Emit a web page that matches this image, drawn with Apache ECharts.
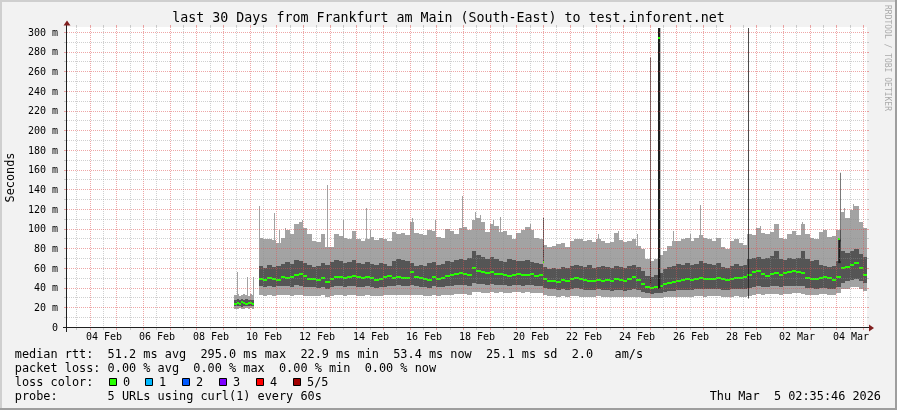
<!DOCTYPE html>
<html><head><meta charset="utf-8">
<script src="https://cdn.jsdelivr.net/npm/echarts@6/dist/echarts.min.js"></script>
<style>html,body{margin:0;padding:0;background:#f2f2f2;}#c{width:897px;height:410px;}</style>
</head><body><div id="c"></div><script>
// ================= DATA =================
const TITLE = 'last 30 Days from Frankfurt am Main (South-East) to test.inforent.net';
const AXIS_START = '2026-02-03T02:35:46Z';
const AXIS_END = '2026-03-05T02:35:46Z';
const Y_MAX = 306.1;
const Y_STEP = 20;
const xLabelDates = ['2026-02-04','2026-02-06','2026-02-08','2026-02-10','2026-02-12','2026-02-14','2026-02-16','2026-02-18','2026-02-20','2026-02-22','2026-02-24','2026-02-26','2026-02-28','2026-03-02','2026-03-04'];
const xTickLabels = ['04 Feb','06 Feb','08 Feb','10 Feb','12 Feb','14 Feb','16 Feb','18 Feb','20 Feb','22 Feb','24 Feb','26 Feb','28 Feb','02 Mar','04 Mar'];

// segment 1 (Feb 9), 2h steps, values in ms
const seg1Start = '2026-02-09T09:10:00Z';
const seg1StepHours = 2;
const seg1Lo1 = [19,19,20,19,19,20,19,20,19];
const seg1Lo2 = [22,22,22,21,22,22,22,22,22];
const seg1Hi2 = [28,29,28,29,28,29,28,28,28];
const seg1Hi1 = [34,35,33,34,35,34,33,35,34];
const seg1Med = [24,25,24,26,25,24,25,25,24];

// segment 2 (Feb 10 -> Mar 5), 4h steps
const seg2Start = '2026-02-10T07:00:00Z';
const seg2StepHours = 4;
const seg2Hi1 = [92,90,91,89,86,92, 100,96,106,108,102,96, 88,87,96,82,82,96, 94,92,91,99,90,88, 90,93,89,92,90,88, 98,96,97,95,108,97, 96,95,100,99,93,92, 101,99,96,102,103,100, 110,112,108,98,106,104, 98,99,95,90,97,100, 103,100,92,90,84,82, 83,85,86,82,88,90, 91,88,89,87,90,88, 86,87,97,89,87,88, 91,83,80,70,68,70, 74,78,83,88,88,90, 92,88,92,95,92,90, 88,92,82,80,88,90, 86,84,96,95,102,97, 96,98,106,92,90,96, 99,95,106,96,92,90, 98,100,93,94,100,118, 112,120,124,108,102];
const seg2Hi2 = [63,61,64,62,63,65, 67,65,69,68,66,64, 62,63,66,64,67,69, 68,66,67,69,66,65, 67,65,64,66,65,63, 68,70,69,68,66,63, 64,63,66,67,64,65, 68,67,69,70,69,71, 78,74,72,70,72,70, 68,67,70,69,68,68, 69,67,66,65,62,60, 61,60,62,61,63,64, 63,62,64,61,62,63, 62,61,63,62,61,63, 64,62,58,53,52,54, 56,60,62,63,65,64, 66,64,65,68,66,65, 64,66,62,61,63,65, 63,64,70,71,72,70, 71,73,78,70,69,71, 70,71,78,70,68,69, 64,63,62,63,68,78, 76,78,80,75,72];
const seg2Med = [50,49,51,50,49,52, 51,52,54,55,53,50, 50,49,51,47,50,52, 52,51,52,53,52,51, 52,51,49,50,52,53, 51,52,51,51,57,52, 51,50,49,52,50,51, 53,54,55,56,55,54, 61,58,57,56,57,55, 55,54,53,54,55,54, 54,55,53,54,50,48, 48,47,49,48,50,51, 50,49,48,48,49,48, 49,48,50,49,48,50, 52,49,45,42,41,42, 43,45,46,47,48,49, 50,49,50,51,50,50, 50,51,50,49,50,51, 51,52,54,57,58,55, 53,55,56,54,56,57, 58,57,56,51,50,50, 51,52,51,49,52,61, 62,64,66,61,54];
const seg2Lo2 = [43,42,43,42,43,43, 43,42,44,43,42,42, 42,41,42,40,42,43, 43,42,43,43,42,42, 43,42,41,42,42,43, 43,44,43,43,44,43, 42,42,41,43,42,42, 43,43,44,44,44,43, 46,45,45,44,45,44, 44,44,43,44,44,43, 44,44,43,43,41,40, 40,39,40,39,40,41, 40,39,39,39,40,39, 39,38,39,39,38,39, 40,39,37,36,35,36, 36,37,38,38,39,39, 39,39,40,40,40,40, 40,40,39,39,40,40, 40,40,41,42,43,42, 42,43,43,42,43,43, 43,43,43,41,41,40, 41,41,40,40,42,46, 48,49,50,48,46];
const seg2Lo1 = [34,33,34,33,34,34, 34,33,34,34,33,33, 33,33,34,32,33,34, 34,33,34,34,33,33, 34,33,33,33,34,34, 34,34,34,34,34,34, 34,33,33,34,33,34, 34,34,35,35,35,34, 37,37,36,36,37,36, 37,36,36,37,37,36, 37,36,36,36,34,33, 33,32,33,32,33,33, 32,32,32,32,33,32, 32,32,32,32,32,32, 32,32,31,30,30,30, 31,32,32,32,32,32, 32,32,33,33,32,33, 33,33,32,32,32,33, 32,32,33,34,35,34, 35,35,35,34,35,35, 36,36,35,34,34,34, 35,35,34,34,36,40, 40,42,42,40,38];

// single-column peaks of the outer smoke
const lightSpikeTimes = ['2026-02-09T11:52Z','2026-02-09T20:18Z','2026-02-10T01:42Z','2026-02-10T07:00Z','2026-02-10T21:12Z','2026-02-11T01:24Z','2026-02-11T06:48Z','2026-02-11T22:06Z','2026-02-12T20:36Z','2026-02-13T11:16Z','2026-02-13T19:06Z','2026-02-14T07:24Z','2026-02-14T11:18Z','2026-02-16T01:06Z','2026-02-16T21:48Z','2026-02-17T21:48Z','2026-02-18T09:48Z','2026-02-18T14:18Z','2026-02-19T02:00Z','2026-02-19T08:18Z','2026-02-20T11:18Z','2026-02-23T00:48Z','2026-02-23T18:12Z','2026-02-24T11:18Z','2026-02-25T20:18Z','2026-02-26T11:18Z','2026-02-26T20:18Z','2026-03-01T02:18Z','2026-03-01T15:48Z','2026-03-02T16:06Z','2026-03-04T05:54Z','2026-03-04T14:00Z'];
const lightSpikeValues = [57,52,52,124,117,100,102,110,145,110,99,122,100,112,110,134,118,115,110,113,106,96,99,96,99,96,125,104,106,108,122,126];

// outlier columns (all pings high)
const darkSpikeStart = ['2026-02-20T23:00Z','2026-02-24T23:34Z','2026-02-25T06:30Z','2026-02-28T15:30Z','2026-03-04T00:42Z','2026-03-04T02:18Z'];
const darkSpikeEnd   = ['2026-02-20T23:40Z','2026-02-25T00:12Z','2026-02-25T08:34Z','2026-02-28T16:13Z','2026-03-04T02:52Z','2026-03-04T02:50Z'];
const darkSpikeLow   = [66,45,40,30,66,88];
const darkSpikeHigh  = [112,275,305,305,90,158];
const darkSpikeMedian= [67,null,295,null,90,null];

// legend
const legendLines = [
  'median rtt:  51.2 ms avg  295.0 ms max  22.9 ms min  53.4 ms now  25.1 ms sd  2.0   am/s',
  'packet loss: 0.00 % avg  0.00 % max  0.00 % min  0.00 % now',
  'loss color:',
  'probe:       5 URLs using curl(1) every 60s'
];
const lossLabels = ['0','1','2','3','4','5/5'];
const lossColors = ['#26ff00','#00b8ff','#0059ff','#7e00ff','#ff0000','#a10000'];
const stampText = 'Thu Mar  5 02:35:46 2026';
const watermark = 'RRDTOOL / TOBI OETIKER';
const yAxisName = 'Seconds';

// ================= STYLE =================
const GL = 67, GT = 27, GW = 800, GH = 301;
const MONO = '"DejaVu Sans Mono", monospace';
const LIGHT = '#a3a3a3', DARK = '#555555', GREEN = '#26ff00', SPIKE = '#1e1e1e';
const MGRID = 'rgba(222,79,79,0.5)', GRID = 'rgba(143,143,143,0.42)';
const AXISC = '#1f1f1f', ARROW = '#801f1f';
const SPIKE_BASE = 0.45;

// ================= BUILD =================
const ms = s => Date.parse(s);
const HOUR = 3600e3;
const T0 = ms(AXIS_START), T1 = ms(AXIS_END);

function bandItems(start, stepH, lo1, lo2, hi2, hi1, med) {
  const s = ms(start);
  return hi1.map((_, i) => [s + i*stepH*HOUR, s + (i+1)*stepH*HOUR, lo1[i], lo2[i], hi2[i], hi1[i], med[i]]);
}
const bandData = bandItems(seg1Start, seg1StepHours, seg1Lo1, seg1Lo2, seg1Hi2, seg1Hi1, seg1Med)
  .concat(bandItems(seg2Start, seg2StepHours, seg2Lo1, seg2Lo2, seg2Hi2, seg2Hi1, seg2Med));
const lightSpikeData = lightSpikeTimes.map((t, i) => [ms(t), lightSpikeValues[i]]);
const darkSpikeData = darkSpikeStart.map((t, i) => [ms(t), ms(darkSpikeEnd[i]), darkSpikeLow[i], darkSpikeHigh[i], darkSpikeMedian[i] == null ? -1 : darkSpikeMedian[i]]);

// grid lines: kind 0 major vertical (midnight), 1 minor vertical (noon), 2 major horiz, 3 minor horiz
const gridData = [];
for (let d = 0; d < 30; d++) {
  gridData.push([0, Date.UTC(2026, 1, 4 + d)]);
  gridData.push([1, Date.UTC(2026, 1, 3 + d, 12)]);
}
for (let v = 0; v <= 300; v += Y_STEP) gridData.push([2, v]);
for (let v = Y_STEP/2; v < 300; v += Y_STEP) gridData.push([3, v]);
const xLabelData = xLabelDates.map(d => [ms(d + 'T12:00:00Z'), 0]);

function clampX(cs, x) { return Math.max(cs.x, Math.min(cs.x + cs.width, x)); }
function clampY(cs, y) { return Math.max(cs.y, Math.min(cs.y + cs.height, y)); }

function renderBand(params, api) {
  const cs = params.coordSys;
  const xa = clampX(cs, Math.round(api.coord([api.value(0), 0])[0]));
  const xb = clampX(cs, Math.round(api.coord([api.value(1), 0])[0]));
  const w = xb - xa; if (w <= 0) return null;
  const Y = v => Math.round(api.coord([api.value(0), v])[1]);
  const yLo1 = Y(api.value(2)), yLo2 = Y(api.value(3)), yHi2 = Y(api.value(4)), yHi1 = Y(api.value(5)), yMed = Y(api.value(6));
  return {type: 'group', children: [
    {type: 'rect', shape: {x: xa, y: yHi1, width: w, height: yLo1 - yHi1}, style: {fill: LIGHT}},
    {type: 'rect', shape: {x: xa, y: yHi2, width: w, height: yLo2 - yHi2}, style: {fill: DARK}},
    {type: 'rect', shape: {x: xa, y: yMed - 1, width: w, height: 2}, style: {fill: GREEN}}
  ]};
}
function renderLightSpike(params, api) {
  const v = api.value(1);
  const p = api.coord([api.value(0), v]);
  const base = api.coord([api.value(0), v * SPIKE_BASE]);
  const x = Math.round(p[0]);
  return {type: 'rect', shape: {x: x, y: Math.round(p[1]), width: 1, height: Math.round(base[1]) - Math.round(p[1])}, style: {fill: LIGHT}};
}
function renderDarkSpike(params, api) {
  const cs = params.coordSys;
  const a = api.coord([api.value(0), api.value(2)]);
  const b = api.coord([api.value(1), api.value(3)]);
  const yTop = clampY(cs, b[1]);
  const children = [{type: 'rect', shape: {x: a[0], y: yTop, width: b[0] - a[0], height: a[1] - yTop}, style: {fill: SPIKE}}];
  if (api.value(4) >= 0) {
    const ym = Math.round(api.coord([api.value(0), api.value(4)])[1]);
    children.push({type: 'rect', shape: {x: Math.floor(a[0]), y: ym - 1, width: Math.max(1, Math.round(b[0] - a[0])), height: 2}, style: {fill: GREEN}});
  }
  return {type: 'group', children};
}
function renderGrid(params, api) {
  const cs = params.coordSys;
  const kind = api.value(0), v = api.value(1);
  const major = kind === 0 || kind === 2;
  const color = major ? MGRID : GRID;
  if (kind < 2) {
    const x = Math.round(api.coord([v, 0])[0]) - 0.5;
    const top = cs.y, bot = cs.y + cs.height;
    return {type: 'group', children: [
      {type: 'line', shape: {x1: x, y1: top, x2: x, y2: bot}, style: {stroke: color, lineWidth: 1, lineDash: [1, 1]}},
      {type: 'line', shape: {x1: x, y1: top - 2, x2: x, y2: top}, style: {stroke: color, lineWidth: 1}},
      {type: 'line', shape: {x1: x, y1: bot, x2: x, y2: bot + 2}, style: {stroke: color, lineWidth: 1}}
    ]};
  }
  const y = Math.round(api.coord([T0, v])[1]) - 0.5;
  const l = cs.x, r = cs.x + cs.width;
  return {type: 'group', children: [
    {type: 'line', shape: {x1: l, y1: y, x2: r, y2: y}, style: {stroke: color, lineWidth: 1, lineDash: [1, 1]}},
    {type: 'line', shape: {x1: l - 3, y1: y, x2: l, y2: y}, style: {stroke: color, lineWidth: 1}},
    {type: 'line', shape: {x1: r, y1: y, x2: r + 2, y2: y}, style: {stroke: color, lineWidth: 1}}
  ]};
}
function renderXLabel(params, api) {
  const cs = params.coordSys;
  const p = api.coord([api.value(0), 0]);
  return {type: 'text', x: Math.round(p[0]), y: cs.y + cs.height + 9.5,
    style: {text: xTickLabels[params.dataIndex], font: '10px ' + MONO, fill: '#000', textAlign: 'center', textVerticalAlign: 'middle'}};
}

// ---- decoration (frame, axes, legend) ----
const graphics = [
  {type: 'rect', shape: {x: 0, y: 0, width: 897, height: 2}, style: {fill: '#cfcfcf'}, z: 100},
  {type: 'rect', shape: {x: 0, y: 0, width: 2, height: 410}, style: {fill: '#cfcfcf'}, z: 100},
  {type: 'rect', shape: {x: 0, y: 408, width: 897, height: 2}, style: {fill: '#9e9e9e'}, z: 100},
  {type: 'rect', shape: {x: 895, y: 0, width: 2, height: 410}, style: {fill: '#9e9e9e'}, z: 100},
  {type: 'line', shape: {x1: GL - 4, y1: GT + GH - 0.5, x2: GL + GW + 4, y2: GT + GH - 0.5}, style: {stroke: AXISC, lineWidth: 1}, z: 100},
  {type: 'line', shape: {x1: GL - 0.5, y1: GT + GH + 4, x2: GL - 0.5, y2: GT - 4}, style: {stroke: AXISC, lineWidth: 1}, z: 100},
  {type: 'polygon', shape: {points: [[GL + GW + 2, GT + GH - 3.5], [GL + GW + 2, GT + GH + 3.5], [GL + GW + 7, GT + GH]]}, style: {fill: ARROW}, z: 101},
  {type: 'polygon', shape: {points: [[GL - 3.5, GT - 1.5], [GL + 3.5, GT - 1.5], [GL, GT - 6.5]]}, style: {fill: ARROW}, z: 101},
  {type: 'text', x: 448.5, y: 18.5, style: {text: TITLE, font: '13.3px ' + MONO, fill: '#000', textAlign: 'center', textVerticalAlign: 'middle'}, z: 100},
  {type: 'text', x: 11, y: GT + GH / 2, rotation: Math.PI / 2, style: {text: yAxisName, font: '11.86px ' + MONO, fill: '#000', textAlign: 'center', textVerticalAlign: 'middle'}, z: 100},
  {type: 'text', x: 887, y: 5, rotation: -Math.PI / 2, style: {text: watermark, font: '8px ' + MONO, fill: '#ababab', textAlign: 'left', textVerticalAlign: 'middle'}, z: 100},
  {type: 'text', x: 881, y: 396.5, style: {text: stampText, font: '11.86px ' + MONO, fill: '#000', textAlign: 'right', textVerticalAlign: 'middle'}, z: 100}
];
const legendY = [354.5, 368.5, 382.5, 396.5];
legendLines.forEach((t, i) => graphics.push({type: 'text', x: 14.8, y: legendY[i], style: {text: t, font: '11.86px ' + MONO, fill: '#000', textAlign: 'left', textVerticalAlign: 'middle'}, z: 100}));
lossLabels.forEach((t, i) => {
  const bx = Math.round(108.5 + i * 36.8) + 0.5;
  graphics.push({type: 'rect', shape: {x: bx, y: 378.5, width: 7, height: 7}, style: {fill: lossColors[i], stroke: '#000', lineWidth: 1}, z: 100});
  graphics.push({type: 'text', x: bx + 13.5, y: legendY[2], style: {text: t, font: '11.86px ' + MONO, fill: '#000', textAlign: 'left', textVerticalAlign: 'middle'}, z: 100});
});

const chart = echarts.init(document.getElementById('c'), null, {renderer: 'canvas'});
chart.setOption({
  animation: false,
  backgroundColor: '#f2f2f2',
  grid: {left: GL, top: GT, width: GW, height: GH, show: true, backgroundColor: '#ffffff', borderWidth: 0, containLabel: false},
  xAxis: {type: 'value', min: T0, max: T1, show: false},
  yAxis: {type: 'value', min: 0, max: Y_MAX, interval: Y_STEP,
    axisLine: {show: false}, axisTick: {show: false}, splitLine: {show: false},
    axisLabel: {show: true, margin: 9, fontFamily: MONO, fontSize: 10, color: '#000',
      formatter: v => (v % Y_STEP !== 0 || v > 300) ? '' : (v === 0 ? '0' : v + ' m')}},
  graphic: {elements: graphics},
  series: [
    {type: 'custom', name: 'peaks', renderItem: renderLightSpike, data: lightSpikeData, encode: {x: 0, y: 1}, z: 2, silent: true},
    {type: 'custom', name: 'smoke', renderItem: renderBand, data: bandData, encode: {x: [0, 1], y: [2, 3, 4, 5, 6]}, z: 3, silent: true},
    {type: 'custom', name: 'outliers', renderItem: renderDarkSpike, data: darkSpikeData, encode: {x: [0, 1], y: [2, 3]}, z: 4, silent: true},
    {type: 'custom', name: 'grid', renderItem: renderGrid, data: gridData, z: 10, silent: true},
    {type: 'custom', name: 'xlabels', renderItem: renderXLabel, data: xLabelData, encode: {x: 0, y: 1}, z: 10, silent: true}
  ]
});
</script></body></html>
